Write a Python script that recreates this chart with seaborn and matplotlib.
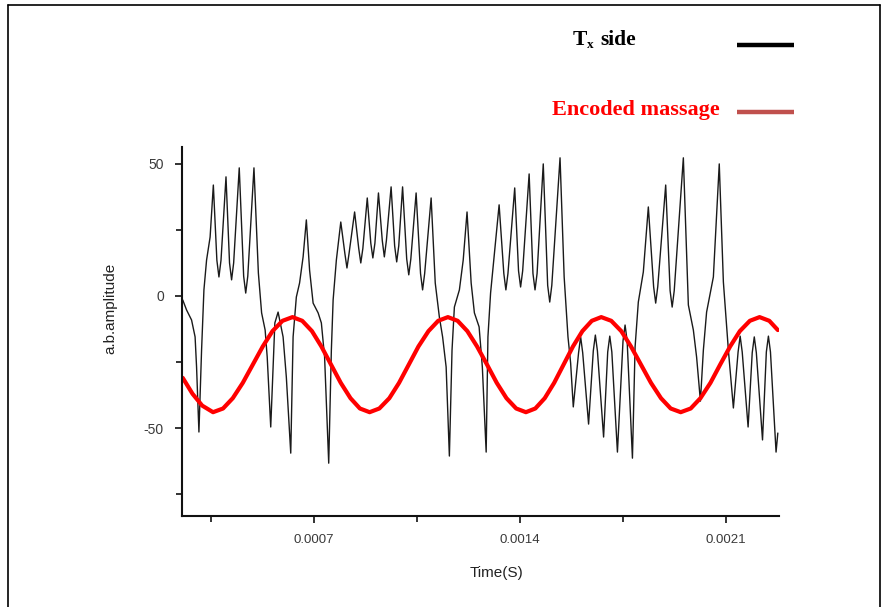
import numpy as np
import pandas as pd
import matplotlib
matplotlib.use("Agg")
import matplotlib.pyplot as plt
import seaborn as sns
from matplotlib.lines import Line2D

# ---- data (time in microseconds, amplitude in a.u.) ----
tx_time_us = [254, 267, 284, 296, 301, 309, 318, 326, 335, 347, 358, 370, 377, 384, 401, 413,
              420, 427, 446, 461, 468, 475, 496, 511, 522, 534, 541, 553, 567, 578, 595, 606,
              621, 629, 640, 651, 663, 674, 685, 697, 714, 725, 736, 750, 759, 765, 776, 791,
              805, 812, 819, 838, 852, 859, 866, 881, 893, 900, 907, 919, 932, 939, 946, 962,
              974, 981, 988, 1001, 1015, 1022, 1029, 1047, 1062, 1069, 1076, 1098, 1112, 1126,
              1137, 1149, 1160, 1169, 1177, 1194, 1207, 1220, 1234, 1245, 1261, 1272, 1285, 1291,
              1300, 1314, 1329, 1345, 1352, 1359, 1382, 1395, 1402, 1409, 1431, 1444, 1451, 1458,
              1479, 1494, 1501, 1508, 1536, 1550, 1563, 1572, 1581, 1599, 1606, 1613, 1633, 1649,
              1656, 1663, 1684, 1698, 1705, 1712, 1731, 1750, 1757, 1764, 1782, 1791, 1802, 1819,
              1836, 1854, 1861, 1868, 1895, 1910, 1917, 1924, 1955, 1972, 1989, 2000, 2013, 2023,
              2034, 2057, 2077, 2091, 2108, 2125, 2141, 2148, 2155, 2175, 2189, 2196, 2203, 2224,
              2237, 2244, 2251, 2270, 2276]
tx_amp = [-1.5, -5.3, -9.1, -15.5, -26.9, -51.5, -20.5, 2.3, 13.6, 22.3, 42.0, 13.5, 7.2, 13.5, 45.1, 12.5,
          6.1, 12.5, 48.5, 7.5, 1.1, 7.5, 48.5, 8.7, -6.4, -12.9, -23.1, -49.6, -10.2, -6.1, -15.5, -30.7,
          -59.5, -15.5, -0.4, 4.9, 14.8, 28.8, 9.8, -2.7, -6.4, -10.2, -23.1, -63.3, -20.5, -1.5, 13.6, 28.0,
          16.0, 10.6, 16.0, 31.8, 18.0, 12.5, 18.0, 37.1, 20.0, 14.4, 20.0, 39.0, 21.0, 14.8, 21.0, 41.3,
          19.0, 12.9, 19.0, 41.3, 14.0, 8.0, 14.0, 39.0, 8.5, 2.3, 8.5, 37.1, 4.9, -8.0,
          -15.5, -26.9, -60.6, -20.5, -4.2, 2.3, 13.6, 31.8, 4.9, -6.4, -11.7, -26.9, -59.1, -15.5,
          1.1, 17.4, 34.5, 8.5, 2.3, 8.5, 40.9, 9.5, 3.4, 9.5, 46.2, 8.5, 2.3, 8.5,
          50.0, 4.0, -2.3, 4.0, 52.3, 7.2, -15.5, -25.4, -42.0, -21.5, -15.5, -21.5, -48.5, -20.8,
          -14.8, -20.8, -53.4, -21.2, -15.2, -21.2, -59.1, -17.0, -11.0, -17.0, -61.4, -19.3, -2.3, 9.1,
          33.7, 3.5, -2.7, 3.5, 42.0, 2.0, -4.2, 2.0, 52.3, -3.4, -12.9, -23.1, -39.8, -20.5,
          -6.1, 7.2, 50.0, 5.3, -20.5, -42.4, -21.2, -15.2, -21.2, -49.6, -21.5, -15.5, -21.5, -54.5,
          -21.2, -15.2, -21.2, -59.1, -51.9]

enc_time_us = [254, 287, 320, 357,
               391, 424, 458, 492, 526, 559, 593, 627,
               660, 693, 725, 758, 791, 824, 856, 889,
               922, 956, 989, 1022, 1055, 1089, 1122, 1155,
               1188, 1221, 1254, 1288, 1321, 1354, 1387, 1420,
               1452, 1484, 1516, 1548, 1580, 1612, 1644, 1676,
               1710, 1744, 1777, 1811, 1845, 1879, 1912, 1946,
               1980, 2013, 2047, 2080, 2114, 2147, 2181, 2214,
               2247, 2276]
enc_amp = [-31.0, -37.0, -41.5, -44.0,
           -42.6, -38.7, -32.9, -26.0, -19.1, -13.3, -9.4, -8.0,
           -9.4, -13.3, -19.1, -26.0, -32.9, -38.7, -42.6, -44.0,
           -42.6, -38.7, -32.9, -26.0, -19.1, -13.3, -9.4, -8.0,
           -9.4, -13.3, -19.1, -26.0, -32.9, -38.7, -42.6, -44.0,
           -42.6, -38.7, -32.9, -26.0, -19.1, -13.3, -9.4, -8.0,
           -9.4, -13.3, -19.1, -26.0, -32.9, -38.7, -42.6, -44.0,
           -42.6, -38.7, -32.9, -26.0, -19.1, -13.3, -9.4, -8.0,
           -9.4, -12.9]

x_ticks = [0.0007, 0.0014, 0.0021]
x_tick_labels = ["0.0007", "0.0014", "0.0021"]
x_minor_ticks = [0.00035, 0.00105, 0.00175]
y_ticks = [-50, 0, 50]
y_tick_labels = ["-50", "0", "50"]
y_minor_ticks = [-75, -25, 25]

series_tx = "Tx side"
series_enc = "Encoded massage"

# ---- styling ----
sns.set_theme(style="ticks")
plt.rcParams['font.family'] = ['Liberation Sans', 'DejaVu Sans']

W, H = 885, 607
fig = plt.figure(figsize=(W / 100, H / 100), dpi=100)
fig.patch.set_facecolor("white")

ax_l, ax_r, ax_t, ax_b = 182, 779, 147, 516
ax = fig.add_axes([ax_l / W, 1 - ax_b / H, (ax_r - ax_l) / W, (ax_b - ax_t) / H])

df_tx = pd.DataFrame({"t": np.array(tx_time_us) * 1e-6, "a": tx_amp})
df_enc = pd.DataFrame({"t": np.array(enc_time_us) * 1e-6, "a": enc_amp})

sns.lineplot(data=df_tx, x="t", y="a", ax=ax, color="#1a1a1a", lw=1.0,
             estimator=None, sort=False)
sns.lineplot(data=df_enc, x="t", y="a", ax=ax, color="#ff0000", lw=3.0,
             estimator=None, sort=False)

ax.set_xlim(0.0002515, 0.00228)
ax.set_ylim(-83.3, 56.4)

ax.set_xticks(x_ticks)
ax.set_xticklabels(x_tick_labels)
ax.set_xticks(x_minor_ticks, minor=True)
ax.set_yticks(y_ticks)
ax.set_yticklabels(y_tick_labels)
ax.set_yticks(y_minor_ticks, minor=True)

for side in ["top", "right"]:
    ax.spines[side].set_visible(False)
for side in ["left", "bottom"]:
    ax.spines[side].set_linewidth(1.5)
    ax.spines[side].set_color("#111111")

ax.tick_params(axis="both", which="both", direction="out", color="#111111", width=1.2)
ax.tick_params(axis="both", which="major", length=5)
ax.tick_params(axis="both", which="minor", length=4.5)
ax.tick_params(axis="x", which="major", labelsize=9.5, labelcolor="#3a3a3a", pad=8)
ax.tick_params(axis="y", which="major", labelsize=10, labelcolor="#3a3a3a", pad=8)

ax.set_xlabel("Time(S)", fontsize=11, color="#222222")
ax.set_ylabel("a.b.amplitude", fontsize=11, color="#222222")
ax.xaxis.set_label_coords((496 - ax_l) / (ax_r - ax_l), (ax_b - 566) / (ax_b - ax_t))
ax.yaxis.set_label_coords((117 - ax_l) / (ax_r - ax_l), (ax_b - 308) / (ax_b - ax_t))

# ---- legend drawn manually, like the reference ----
def fx(px):
    return px / W

def fy(py):
    return 1 - py / H

serif = ['Liberation Serif', 'DejaVu Serif']
fig.text(fx(573), fy(45), "T", fontsize=15.5, fontweight="bold", color="black",
         family=serif, ha="left", va="baseline")
fig.text(fx(587), fy(48), "x", fontsize=9.5, fontweight="bold", color="black",
         family=serif, ha="left", va="baseline")
fig.text(fx(600), fy(45), "side", fontsize=15.5, fontweight="bold", color="black",
         family=serif, ha="left", va="baseline")
fig.text(fx(552), fy(115), series_enc, fontsize=16, fontweight="bold", color="#ff0000",
         family=serif, ha="left", va="baseline")

fig.add_artist(Line2D([fx(737), fx(794)], [fy(45), fy(45)], transform=fig.transFigure,
                      color="black", lw=3.2, solid_capstyle="butt"))
fig.add_artist(Line2D([fx(737), fx(794)], [fy(112), fy(112)], transform=fig.transFigure,
                      color="#c0504d", lw=3.2, solid_capstyle="butt"))

# ---- outer frame ----
frame_kw = dict(transform=fig.transFigure, color="black", lw=1.2)
fig.add_artist(Line2D([fx(8), fx(8)], [0, fy(5)], **frame_kw))
fig.add_artist(Line2D([fx(8), fx(880)], [fy(5), fy(5)], **frame_kw))
fig.add_artist(Line2D([fx(880), fx(880)], [fy(5), 0], **frame_kw))

fig.savefig("out.png", dpi=100, facecolor="white")
